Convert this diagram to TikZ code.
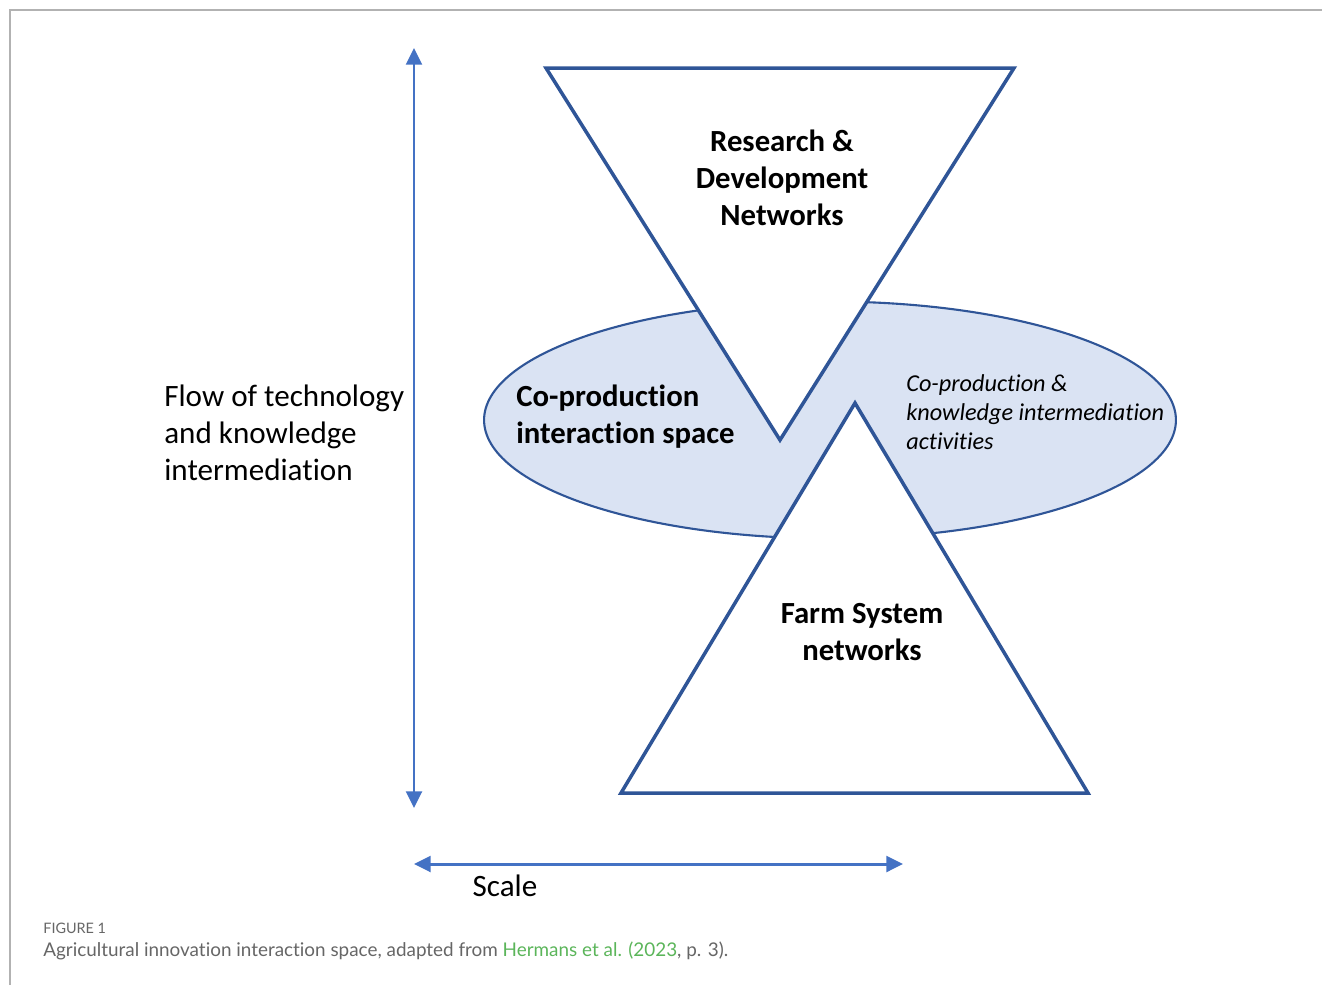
\documentclass[tikz,border=0pt]{standalone}
\usepackage{fontspec}
\setmainfont[Ligatures=NoCommon]{Carlito}
\newfontfamily\captionfont[Ligatures=NoCommon]{Lato}
\usetikzlibrary{arrows.meta,positioning,shapes.geometric}
\definecolor{arrowBlue}{HTML}{4472C4}
\definecolor{edgeBlue}{HTML}{2F5597}
\definecolor{spaceFill}{HTML}{DAE3F3}
\definecolor{refGreen}{HTML}{5BB55A}
\tikzset{
    network/.style={draw=edgeBlue, fill=white, line width=2pt, line join=miter},
    space/.style={ellipse, draw=edgeBlue, fill=spaceFill, line width=1.2pt, inner sep=0pt},
    axis/.style={arrowBlue, line width=1.7pt, {Triangle[length=9.5pt,width=9pt]}-{Triangle[length=9.5pt,width=9pt]}},
    label/.style={font=\fontsize{17.7}{21}\selectfont, inner sep=0pt},
    netLabel/.style={font=\bfseries\fontsize{17.5}{21}\selectfont, inner sep=0pt, align=center},
    note/.style={font=\itshape\fontsize{13.8}{16.5}\selectfont, inner sep=0pt, align=left},
    frame/.style={draw=black!30, line width=0.6pt}
}

\begin{document}
\begin{tikzpicture}[x={(0.02cm,0)}, y={(0,-0.02cm)}]

\useasboundingbox (0,0) rectangle (1322,985);

% page frame
\coordinate (F0) at (10,985);
\coordinate (F1) at (10,10);
\coordinate (F2) at (1322,10);
\draw[frame] (F0) -- (F1) -- (F2);

% interaction space
\node[space, minimum width=13.84cm, minimum height=4.74cm] (S) at (830,420) {};

% Level 0: research networks (inverted)
\coordinate (R1) at (546,68);
\coordinate (R2) at (1014,68);
\coordinate (R3) at (780,440);
\draw[network] (R1) -- (R2) -- (R3) -- cycle;

% Level 1: farm networks
\coordinate (P1) at (855,403);
\coordinate (P2) at (1088,793);
\coordinate (P3) at (621,793);
\draw[network] (P1) -- (P2) -- (P3) -- cycle;

% axes
\coordinate (V0) at (414,48);
\coordinate (V1) at (414,808);
\coordinate (H0) at (414,864);
\coordinate (H1) at (903,864);
\draw[axis] (V0) -- (V1);
\draw[axis] (H0) -- (H1);

% labels
\node[netLabel] (RD) at (782,178) {Research \&\\Development\\Networks};
\node[netLabel] (FS) at (862,632) {Farm System\\networks};
\node[netLabel, align=left, anchor=west] (CP) at (516,417) {Co-production\\interaction space};
\node[note, anchor=west] (CK) at (906,412) {Co-production \&\\knowledge intermediation\\activities};
\node[label, align=left, anchor=west] (FL) at (164,433) {Flow of technology\\and knowledge\\intermediation};
\node[label] (SC) at (505,886) {Scale};

% caption
\node[font=\captionfont\fontsize{8.2}{10}\selectfont, text=black!60, anchor=west, inner sep=0pt] (FIG) at (43,928) {FIGURE 1};
\node[font=\captionfont\fontsize{10.75}{12}\selectfont, text=black!60, anchor=west, inner sep=0pt] (CAP) at (43,951)
  {Agricultural innovation interaction space, adapted from \textcolor{refGreen}{Hermans et al. (2023}, p. 3).};

\end{tikzpicture}
\end{document}
